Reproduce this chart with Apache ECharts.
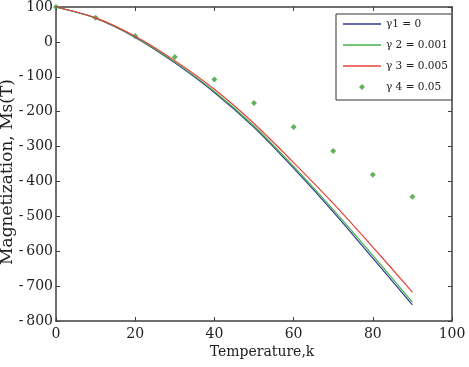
<!DOCTYPE html>
<html>
<head>
<meta charset="utf-8">
<script src="https://cdn.jsdelivr.net/npm/echarts@6/dist/echarts.min.js"></script>
<style>
  html, body { margin: 0; padding: 0; background: #fff; }
  #chart { width: 469px; height: 367px; }
</style>
</head>
<body>
<div id="chart"></div>
<script>
// 数据：温度与磁化强度
const temps = [0, 10, 20, 30, 40, 50, 60, 70, 80, 90]
const gamma1 = [100, 68, 13, -60, -145, -245, -362, -487, -620, -754]
const gamma2 = [100, 68, 14, -58, -142, -241, -357, -481, -612, -746]
const gamma3 = [100, 69, 16, -54, -136, -234, -346, -463, -588, -717]
const gamma4 = [100, 69, 17, -43, -108, -175, -244, -313, -381, -444]
const names = ['γ1 = 0', 'γ 2 = 0.001', 'γ 3 = 0.005', 'γ 4 = 0.05']
const colors = ['#2b3990', '#45b04a', '#e8403a', '#3a9e35']

const font = 'DejaVu Serif'
const axisColor = '#404040'

const pairs = vals => temps.map((t, i) => [t, vals[i]])

// 图例图标：线段和小散点
const svgIcon = body => 'image://data:image/svg+xml;utf8,' + encodeURIComponent(
  '<svg xmlns="http://www.w3.org/2000/svg" width="38" height="12">' + body + '</svg>'
)
const lineIcon = c => svgIcon('<line x1="0" y1="6" x2="38" y2="6" stroke="' + c + '" stroke-width="1.3"/>')
const dotIcon = c => svgIcon('<path d="M19 3 L22 6 L19 9 L16 6 Z" fill="' + c + '"/>')

const chart = echarts.init(document.getElementById('chart'))

const boxAxis = {
  axisLine: { show: true, onZero: false, lineStyle: { color: axisColor, width: 1.5 } },
  axisTick: { show: true, inside: true, length: 4, lineStyle: { color: axisColor } },
  splitLine: { show: false },
}

chart.setOption({
  animation: false,
  grid: { left: 56, right: 17, top: 7, bottom: 46, containLabel: false, outerBoundsMode: 'none' },
  legend: {
    orient: 'vertical',
    left: 336,
    top: 14,
    backgroundColor: '#fff',
    borderColor: '#333',
    borderWidth: 1,
    borderRadius: 0,
    padding: [4, 4, 7, 7],
    itemWidth: 38,
    itemHeight: 12,
    itemGap: 9,
    textStyle: { fontFamily: font, fontSize: 10.5, color: '#222' },
    data: [
      { name: names[0], icon: lineIcon(colors[0]) },
      { name: names[1], icon: lineIcon(colors[1]) },
      { name: names[2], icon: lineIcon(colors[2]) },
      { name: names[3], icon: dotIcon(colors[3]) },
    ],
  },
  xAxis: [
    {
      type: 'value', min: 0, max: 100, interval: 20, position: 'bottom',
      name: 'Temperature,k', nameLocation: 'middle', nameGap: 24, nameMoveOverlap: false,
      nameTextStyle: { fontFamily: font, fontSize: 14, color: '#222', padding: [0, 0, 0, 16] },
      axisLabel: { fontFamily: font, fontSize: 14, color: '#222', margin: 6 },
      ...boxAxis,
    },
    {
      type: 'value', min: 0, max: 100, interval: 20, position: 'top',
      axisLabel: { show: false },
      ...boxAxis,
    },
  ],
  yAxis: [
    {
      type: 'value', min: -800, max: 100, interval: 100, position: 'left',
      name: 'Magnetization, Ms(T)', nameLocation: 'middle', nameGap: 40, nameMoveOverlap: false,
      nameTextStyle: { fontFamily: font, fontSize: 17, color: '#222', padding: [0, 16, 0, 0] },
      axisLabel: {
        fontFamily: font, fontSize: 14, color: '#222', margin: 3,
        formatter: v => (v < 0 ? '-\u2009' + (-v) : String(v)),
      },
      ...boxAxis,
    },
    {
      type: 'value', min: -800, max: 100, interval: 100, position: 'right',
      axisLabel: { show: false },
      ...boxAxis,
    },
  ],
  series: [
    {
      name: names[0], type: 'line', data: pairs(gamma1), smooth: 0.3,
      symbol: 'none', lineStyle: { color: colors[0], width: 1.2 }, itemStyle: { color: colors[0] },
    },
    {
      name: names[1], type: 'line', data: pairs(gamma2), smooth: 0.3,
      symbol: 'none', lineStyle: { color: colors[1], width: 1.2 }, itemStyle: { color: colors[1] },
    },
    {
      name: names[2], type: 'line', data: pairs(gamma3), smooth: 0.3,
      symbol: 'none', lineStyle: { color: colors[2], width: 1.2 }, itemStyle: { color: colors[2] },
    },
    {
      name: names[3], type: 'scatter', data: pairs(gamma4),
      symbol: 'diamond', symbolSize: 6, itemStyle: { color: colors[3] },
    },
  ],
})
</script>
</body>
</html>
